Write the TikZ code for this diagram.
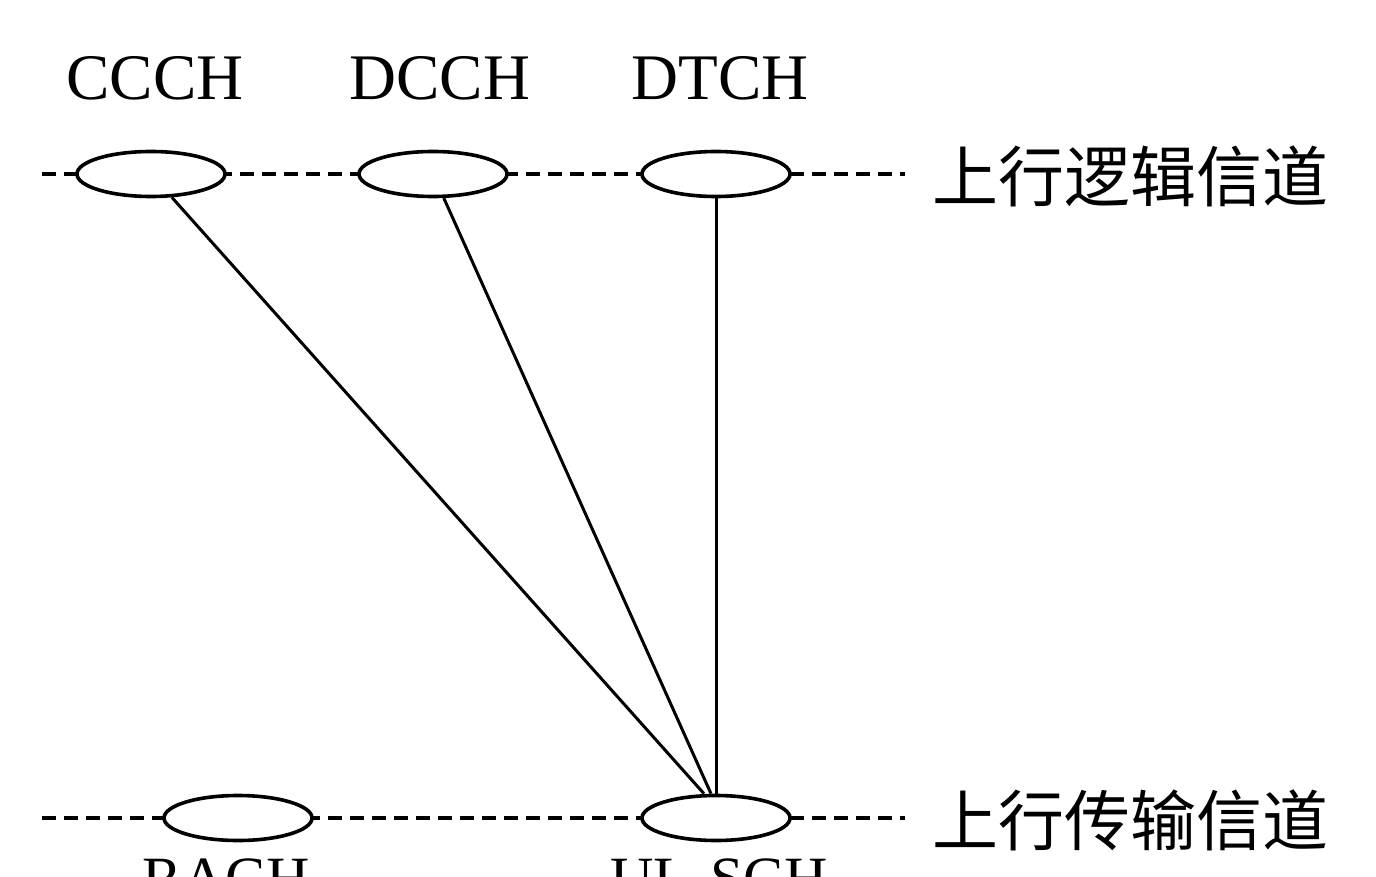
\documentclass[tikz,border=0pt]{standalone}
\usepackage{fontspec}
\setmainfont{Liberation Serif}
\newfontfamily\cjk{Noto Sans CJK SC}
\usetikzlibrary{shapes.geometric}
\begin{document}
\begin{tikzpicture}[x=1pt,y=-1pt,
  chan/.style={ellipse,draw,line width=3.6pt,minimum width=148pt,minimum height=45pt,inner sep=0pt,fill=white},
  dline/.style={line width=3.6pt,dash pattern=on 14pt off 8pt},
  conn/.style={line width=3pt},
  lbl/.style={font=\fontsize{65}{70}\selectfont,anchor=base,inner sep=0pt},
  blbl/.style={font=\fontsize{60}{66}\selectfont,anchor=base,inner sep=0pt},
  zh/.style={font=\cjk\fontsize{66}{72}\selectfont,anchor=west,inner sep=0pt}]
\useasboundingbox (0,0) rectangle (1376,877);
% dashed layer lines
\coordinate (tl) at (42,174);
\coordinate (tr) at (905,174);
\coordinate (bl) at (42,818);
\coordinate (br) at (905,818);
\draw[dline] (tl) -- (tr);
\draw[dline] (bl) -- (br);
% ellipses
\node[chan] (ccch) at (151,174) {};
\node[chan] (dcch) at (433,174) {};
\node[chan] (dtch) at (716,174) {};
\node[chan] (rach) at (238,818) {};
\node[chan] (ulsch) at (716,818) {};
% connectors
\draw[conn] (ccch) -- ([xshift=-12pt]ulsch.north);
\draw[conn] (dcch) -- ([xshift=-5pt]ulsch.north);
\draw[conn] (dtch) -- (ulsch);
% labels
\node[lbl] (lccch) at (155,100) {CCCH};
\node[lbl] (ldcch) at (440,100) {DCCH};
\node[lbl] (ldtch) at (720,100) {DTCH};
\node[blbl] (lrach) at (226,898) {RACH};
\node[blbl] (lulsch) at (719,898) {UL-SCH};
\node[zh] (ltop) at (932,176) {上行逻辑信道};
\node[zh] (lbot) at (932,820) {上行传输信道};
\end{tikzpicture}
\end{document}
